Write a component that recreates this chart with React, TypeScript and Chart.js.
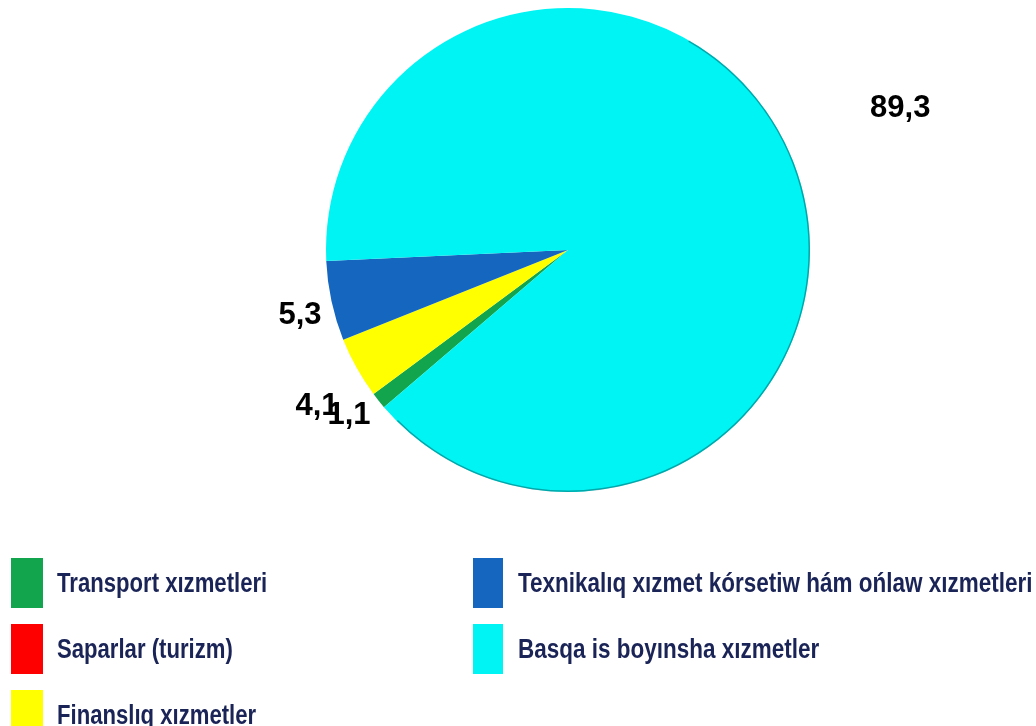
import React, { useEffect, useRef } from "react";
import { Chart, registerables } from "chart.js";

Chart.register(...registerables);

const categories = [
  "Transport xızmetleri",
  "Saparlar (turizm)",
  "Finanslıq xızmetler",
  "Texnikalıq xızmet kórsetiw hám ońlaw xızmetleri",
  "Basqa is boyınsha xızmetler",
];
const shares = [1.1, 0, 4.1, 5.3, 89.3];
const sliceColors = ["#12a54e", "#ff0000", "#ffff00", "#1466be", "#00f4f4"];

// label placement relative to each slice (style only): radius multiple and angle tweak in degrees
const LABEL_DIST = [1.135, 1.2, 1.222, 1.14, 1.492];
const LABEL_TURN = [1.4, 0, -2.8, -1.6, -1.5];

const valueLabels = {
  id: "valueLabels",
  afterDatasetsDraw(chart: any) {
    const ctx = chart.ctx;
    const meta = chart.getDatasetMeta(0);
    const data = chart.data.datasets[0].data as number[];
    ctx.save();
    // subtle shaded rim on the lower right, like the original 3D-look pie
    const a0: any = meta.data[0];
    if (a0) {
      const p0 = a0.getProps(["x", "y", "outerRadius"], true);
      ctx.strokeStyle = "rgba(0,90,95,0.5)";
      ctx.lineWidth = 1.5;
      ctx.beginPath();
      ctx.arc(p0.x, p0.y, p0.outerRadius - 0.75, (-60 * Math.PI) / 180, (135 * Math.PI) / 180);
      ctx.stroke();
    }
    ctx.font = "bold 31px 'Liberation Sans', Arial, sans-serif";
    ctx.fillStyle = "#000";
    ctx.textAlign = "center";
    ctx.textBaseline = "middle";
    meta.data.forEach((arc: any, i: number) => {
      const v = data[i];
      if (!v) return;
      const p = arc.getProps(["x", "y", "startAngle", "endAngle", "outerRadius"], true);
      const mid = (p.startAngle + p.endAngle) / 2 + (LABEL_TURN[i] * Math.PI) / 180;
      const d = p.outerRadius * LABEL_DIST[i];
      ctx.fillText(v.toFixed(1).replace(".", ","), p.x + Math.cos(mid) * d, p.y + Math.sin(mid) * d);
    });
    ctx.restore();
  },
};

export default function App() {
  const ref = useRef<HTMLCanvasElement | null>(null);
  useEffect(() => {
    if (!ref.current) return;
    const chart = new Chart(ref.current, {
      type: "pie",
      data: {
        labels: categories,
        datasets: [
          {
            data: shares,
            backgroundColor: sliceColors,
            borderWidth: 0,
          },
        ],
      },
      options: {
        responsive: false,
        animation: false,
        rotation: 229.5,
        layout: { padding: { left: 326, right: 226, top: 8, bottom: 234 } },
        plugins: {
          legend: { display: false },
          tooltip: { enabled: false },
        },
      },
      plugins: [valueLabels],
    });
    return () => chart.destroy();
  }, []);

  const legendFont: React.CSSProperties = {
    fontFamily: "'Liberation Sans', Arial, sans-serif",
    fontWeight: "bold",
    fontSize: 28,
    color: "#1a2456",
    whiteSpace: "nowrap",
    display: "inline-block",
    transformOrigin: "left center",
  };
  const colX = [11, 473];
  const rowY = [558, 624, 690];

  return (
    <div style={{ position: "absolute", left: 0, top: 0, width: 1036, height: 726, background: "#fff", overflow: "hidden" }}>
      <canvas ref={ref} width={1036} height={726} style={{ position: "absolute", left: 0, top: 0 }} />
      {categories.map((c, i) => {
        const col = i < 3 ? 0 : 1;
        const row = i < 3 ? i : i - 3;
        return (
          <div key={c} style={{ position: "absolute", left: colX[col], top: rowY[row], height: 50, display: "flex", alignItems: "center" }}>
            <div style={{ width: col === 0 ? 32 : 30, height: 50, background: sliceColors[i], flex: "none" }} />
            <span style={{ ...legendFont, transform: col === 0 ? "scaleX(0.79)" : "scaleX(0.803)", marginLeft: col === 0 ? 14 : 15 }}>{c}</span>
          </div>
        );
      })}
    </div>
  );
}
